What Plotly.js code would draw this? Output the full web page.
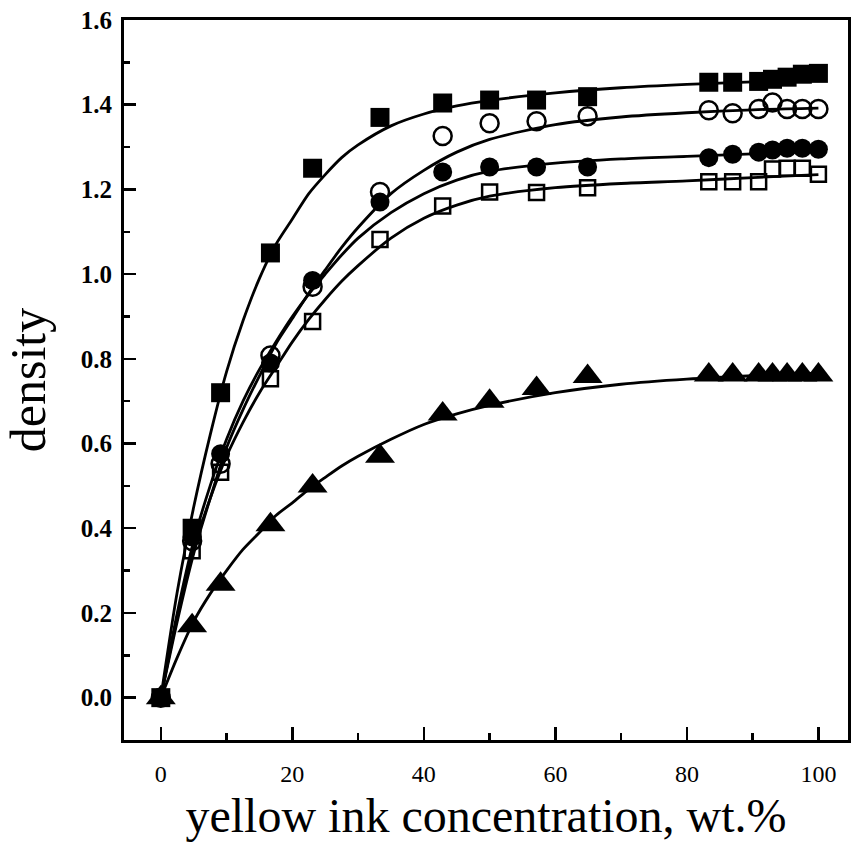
<!DOCTYPE html>
<html>
<head>
<meta charset="utf-8">
<script src="https://cdn.plot.ly/plotly-3.0.1.min.js"></script>
<style>html,body{margin:0;padding:0;background:#fff;}#chart{width:851px;height:854px;}</style>
</head>
<body>
<div id="chart"></div>
<script>
// yellow ink concentration, wt.%
const conc = [0, 4.76, 9.09, 16.67, 23.08, 33.33, 42.86, 50, 57.14, 64.9, 83.33, 86.96, 90.91, 93.02, 95.24, 97.56, 100];

// measured densities
const filledSquare = [0, 0.40, 0.72, 1.05, 1.25, 1.37, 1.404, 1.411, 1.411, 1.419, 1.453, 1.453, 1.455, 1.46, 1.465, 1.472, 1.474];
const openCircle   = [0, 0.37, 0.552, 0.808, 0.970, 1.194, 1.326, 1.356, 1.361, 1.373, 1.387, 1.38, 1.39, 1.405, 1.39, 1.39, 1.39];
const filledCircle = [0, 0.38, 0.576, 0.79, 0.985, 1.17, 1.241, 1.253, 1.253, 1.253, 1.275, 1.283, 1.288, 1.293, 1.297, 1.297, 1.295];
const openSquare   = [0, 0.347, 0.532, 0.753, 0.888, 1.082, 1.161, 1.194, 1.193, 1.204, 1.218, 1.218, 1.218, 1.248, 1.25, 1.25, 1.236];
const triangle     = [0, 0.17, 0.268, 0.408, 0.50, 0.57, 0.67, 0.70, 0.73, 0.758, 0.762, 0.762, 0.762, 0.762, 0.762, 0.762, 0.762];

// fitted curves
const fitX = [0, 2.5, 5, 7.5, 10, 12.5, 15, 17.5, 20, 22.5, 25, 27.5, 30, 35, 40, 45, 50, 60, 70, 80, 90, 100];
const fitFilledSquare = [0, 0.25, 0.45, 0.62, 0.77, 0.89, 0.99, 1.07, 1.13, 1.19, 1.235, 1.275, 1.305, 1.35, 1.378, 1.397, 1.41, 1.428, 1.44, 1.448, 1.454, 1.46];
const fitOpenCircle   = [0, 0.18, 0.34, 0.47, 0.59, 0.68, 0.76, 0.835, 0.895, 0.955, 1.01, 1.063, 1.11, 1.19, 1.245, 1.288, 1.318, 1.353, 1.371, 1.381, 1.388, 1.392];
const fitFilledCircle = [0, 0.20, 0.37, 0.50, 0.61, 0.70, 0.775, 0.84, 0.90, 0.953, 1.00, 1.045, 1.085, 1.145, 1.19, 1.222, 1.243, 1.262, 1.272, 1.278, 1.284, 1.29];
const fitOpenSquare   = [0, 0.19, 0.35, 0.47, 0.57, 0.65, 0.72, 0.78, 0.84, 0.893, 0.94, 0.983, 1.02, 1.085, 1.132, 1.163, 1.184, 1.204, 1.214, 1.22, 1.228, 1.235];
const fitTriangle     = [0, 0.095, 0.18, 0.245, 0.30, 0.35, 0.39, 0.43, 0.46, 0.492, 0.52, 0.547, 0.57, 0.61, 0.645, 0.67, 0.69, 0.72, 0.74, 0.752, 0.76, 0.766];

const yTicks = [0, 0.2, 0.4, 0.6, 0.8, 1.0, 1.2, 1.4, 1.6];
const xTicks = [0, 20, 40, 60, 80, 100];

function fit(y) {
  return {x: fitX, y: y, mode: 'lines', line: {color: '#000', width: 2.8, shape: 'spline', smoothing: 0.8}, hoverinfo: 'skip', showlegend: false};
}
function pts(y, symbol, size) {
  const open = symbol.indexOf('open') >= 0;
  return {x: conc, y: y, mode: 'markers', showlegend: false,
    marker: {symbol: symbol, size: size, color: '#000', line: {color: '#000', width: open ? 2.5 : 0}}};
}

const data = [
  fit(fitFilledSquare), fit(fitOpenCircle), fit(fitFilledCircle), fit(fitOpenSquare), fit(fitTriangle),
  pts(filledSquare, 'square', 19),
  pts(openCircle, 'circle-open', 18),
  pts(filledCircle, 'circle', 19),
  pts(openSquare, 'square-open', 15),
  pts(triangle, 'triangle-up', 26)
];

const serif = 'Liberation Serif, Times New Roman, serif';
const layout = {
  width: 851, height: 854,
  margin: {l: 124, r: 3, t: 20, b: 114},
  paper_bgcolor: '#fff', plot_bgcolor: '#fff',
  showlegend: false,
  xaxis: {
    range: [-5.6, 104.5], tickvals: xTicks, ticktext: xTicks.map(String),
    ticks: 'inside', ticklen: 13, tickwidth: 2.5, tickcolor: '#000',
    minor: {dtick: 10, tick0: 0, ticks: 'inside', ticklen: 7, tickwidth: 2.5, tickcolor: '#000'},
    showline: true, linewidth: 3, linecolor: '#000', mirror: true,
    showgrid: false, zeroline: false,
    tickfont: {family: serif, size: 24, color: '#000'}, ticklabelstandoff: 10,
    title: {text: 'yellow ink concentration, wt.%', font: {family: serif, size: 48, color: '#000'}, standoff: 13}
  },
  yaxis: {
    range: [-0.1, 1.6], tickvals: yTicks, ticktext: yTicks.map(v => v.toFixed(1)),
    ticks: 'inside', ticklen: 12, tickwidth: 2.5, tickcolor: '#000',
    minor: {dtick: 0.1, tick0: 0, ticks: 'inside', ticklen: 6, tickwidth: 2.5, tickcolor: '#000'},
    showline: true, linewidth: 3, linecolor: '#000', mirror: true,
    showgrid: false, zeroline: false,
    tickfont: {family: serif, size: 25, color: '#000', weight: 'bold'},
    ticklabelstandoff: 4,
    title: {text: 'density', font: {family: serif, size: 50, color: '#000'}, standoff: 20}
  }
};

Plotly.newPlot('chart', data, layout, {displayModeBar: false, staticPlot: true});
</script>
</body>
</html>
